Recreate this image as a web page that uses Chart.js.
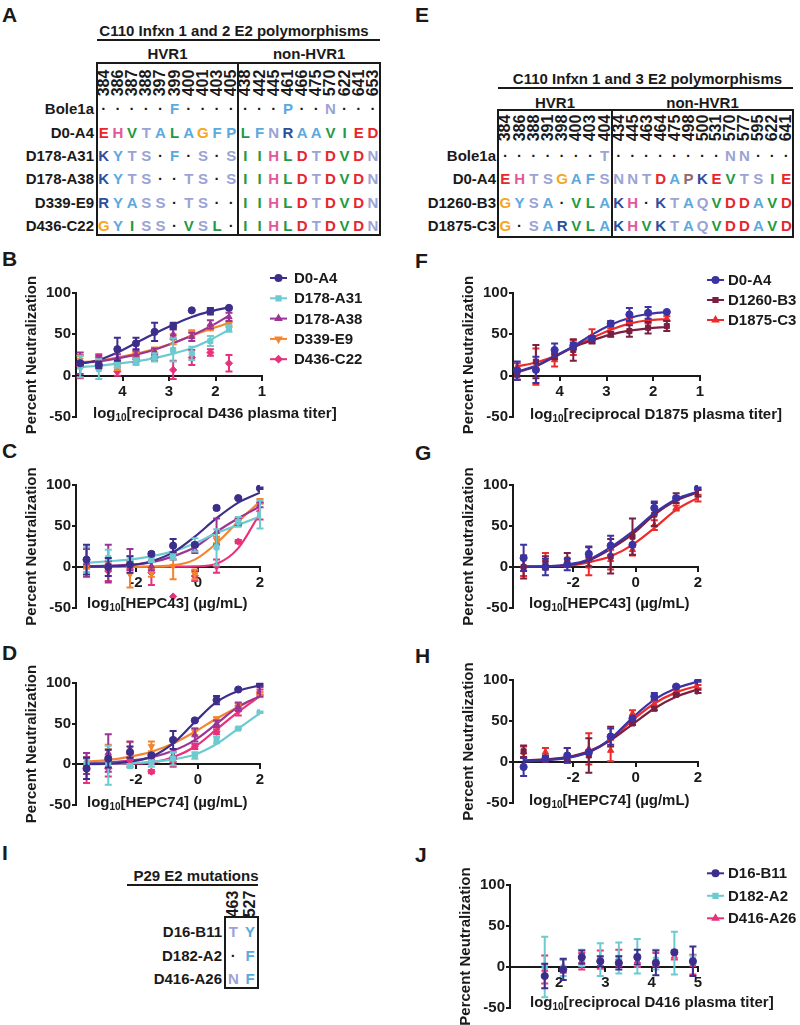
<!DOCTYPE html>
<html lang="en">
<head>
<meta charset="UTF-8">
<title>E2 polymorphisms and neutralization</title>
<script src="https://cdn.jsdelivr.net/npm/chart.js"></script>
<style>
  html, body { margin: 0; background: #fff; }
  #page { position: relative; width: 800px; height: 1025px; overflow: hidden;
          font-family: "Liberation Sans", Arial, sans-serif; font-weight: bold; color: #1a1a1a; }
  .t { position: absolute; white-space: nowrap; line-height: 1; }
  .letter { position: absolute; font-size: 21px; line-height: 1; }
  .rule { position: absolute; height: 2px; background: #1a1a1a; }
  .box { position: absolute; border: 2px solid #1a1a1a; box-sizing: border-box; }
  .chart { position: absolute; }
  canvas { display: block; }
</style>
</head>
<body>
<div id="page"></div>
<script>
// ---- table data (A, E, I) ----
const aHvr1Pos = ['384', '386', '387', '388', '397', '399', '400', '401', '403', '405'];
const aOtherPos = ['438', '442', '445', '461', '466', '475', '570', '622', '641', '653'];
const aClones = ['Bole1a', 'D0-A4', 'D178-A31', 'D178-A38', 'D339-E9', 'D436-C22'];
const aResidues = [
  '.....F....' + '...P..N...',
  'EHVTALAGFP' + 'LFNRAAVIED',
  'KYTS.F.S.S' + 'IIHLDTDVDN',
  'KYTS..TS.S' + 'IIHLDTDVDN',
  'RYASS.TS..' + 'IIHLDTDVDN',
  'GYISS.VSL.' + 'IIHLDTDVDN'
];

const eHvr1Pos = ['384', '386', '388', '391', '398', '400', '403', '404'];
const eOtherPos = ['434', '445', '463', '464', '475', '498', '500', '531', '570', '577', '595', '622', '641'];
const eClones = ['Bole1a', 'D0-A4', 'D1260-B3', 'D1875-C3'];
const eResidues = [
  '.......T' + '........NN...',
  'EHTSGAFS' + 'NNTDAPKEVTSIE',
  'GYSA.VLA' + 'KH.KTAQVDDAVD',
  'G.SARVLA' + 'KHVKTAQVDDAVD'
];

const iPos = ['463', '527'];
const iClones = ['D16-B11', 'D182-A2', 'D416-A26'];
const iResidues = ['TY', '.F', 'NF'];

// ---- neutralization data ----
const titerB = [4.91, 4.51, 4.11, 3.71, 3.31, 2.91, 2.51, 2.11, 1.71];
const titerJ = [1.69, 2.09, 2.49, 2.89, 3.29, 3.69, 4.09, 4.49, 4.89];
const logConc = [-3.59, -2.89, -2.19, -1.50, -0.80, -0.10, 0.60, 1.30, 2.00];
const titerTicksDesc = [4, 3, 2, 1];
const titerTicksAsc = [2, 3, 4, 5];
const concTicks = [-2, 0, 2];
const pctTicks = [-50, 0, 50, 100];

// B: D436 plasma vs infection 1/2 variants
const bD0A4 = [15, 13, 32, 39, 53, 60, 79, 78, 82];
const bD0A4Sd = [2, 4, 14, 7, 11, 4, 0, 4, 0];
const bD0A4Fit = [14.5, 19, 28, 39.5, 51, 61.6, 71, 77.7, 82.6];
const bA31 = [11, 8, 13, 17, 22, 31, 27, 42, 57];
const bA31Sd = [13, 12, 3, 4, 5, 14, 8, 6, 4];
const bA31Fit = [10.5, 12, 14.5, 17.3, 21.3, 26.6, 33.4, 43.5, 55.6];
const bA38 = [15, 17, 21, 26, 29, 50, 47, 62, 71];
const bA38Sd = [13, 7, 5, 4, 4, 6, 5, 5, 5];
const bA38Fit = [15.3, 17.3, 21, 25.4, 31.4, 39.5, 48.7, 59.6, 72.5];
const bE9 = [19, 14, 11, 26, 31, 44, 51, 58, 62];
const bE9Sd = [5, 4, 4, 3, 3, 6, 4, 3, 3];
const bE9Fit = [16, 18, 21.8, 26.6, 32.2, 39.5, 48.3, 56.4, 63.6];
const bC22 = [11, 22, 5, 20, 22, 7, 22, 28, 15];
const bC22Sd = [14, 4, 5, 4, 4, 11, 9, 4, 10];

// F: D1875 plasma vs infection 1/3 variants
const fD0A4 = [6, 7, 31, 36, 45, 63, 74, 76, 77];
const fD0A4Sd = [11, 16, 8, 4, 3, 3, 8, 7, 0];
const fD0A4Fit = [5, 12, 23.4, 35.5, 49.6, 61.7, 69.8, 74.6, 77];
const fB3 = [1, 17, 23, 31, 42, 50, 54, 58, 60];
const fB3Sd = [6, 20, 3, 13, 3, 3, 7, 7, 6];
const fB3Fit = [4, 11.3, 22.6, 34.3, 42.7, 49.6, 54.4, 57.3, 58.9];
const fC3 = [11, 11, 19, 34, 48, 60, 66, 68, 69];
const fC3Sd = [4, 22, 8, 9, 8, 3, 3, 5, 3];
const fC3Fit = [11.3, 16, 23.4, 34.7, 45.6, 55.6, 63, 67, 68.5];

// C: HEPC43 vs infection 1/2 variants
const cD0A4 = [9, 0, 3, 16, 26, 27, 72, 84, 96];
const cD0A4Sd = [18, 11, 10, 2, 8, 2, 2, 1, 1];
const cD0A4Fit = [0.4, 0.8, 2, 7, 17.8, 37, 59.5, 78.5, 90.7];
const cA31 = [9, 11, 7, 9, 13, 27, 24, 55, 64];
const cA31Sd = [15, 10, 6, 3, 4, 8, 22, 6, 17];
const cA31Fit = [5, 7, 9, 13, 19, 29, 41.3, 51.4, 61.5];
const cA38 = [5, 4, 9, 1, 17, 21, 43, 55, 76];
const cA38Sd = [17, 23, 13, 5, 8, 4, 16, 4, 3];
const cA38Fit = [1, 1.6, 2.8, 5.7, 13, 24, 43, 59.5, 73.7];
const cE9 = [1, 1, -9, -7, 1, -9, 33, 55, 80];
const cE9Sd = [3, 3, 16, 5, 16, 6, 4, 4, 3];
const cE9Fit = [0, 0, 0.4, 0.8, 2, 9, 29, 55.5, 79.8];
const cC22 = [1, -5, 1, -7, -36, -11, 1, 31, 68];
const cC22Sd = [2, 12, 3, 15, 0, 6, 8, 2, 10];
const cC22Fit = [0, 0, 0, 0, 0.4, 0.8, 4, 23, 65.6];

// G: HEPC43 vs infection 1/3 variants
const gD0A4 = [11, 0, 3, 16, 26, 27, 72, 84, 96];
const gD0A4Sd = [16, 10, 7, 8, 12, 2, 8, 2, 1];
const gD0A4Fit = [0.4, 0.8, 2.8, 9, 24, 43, 65.6, 82.6, 92];
const gB3 = [0, 5, 9, 13, 13, 37, 64, 84, 90];
const gB3Sd = [14, 8, 8, 12, 21, 22, 14, 6, 4];
const gB3Fit = [0.4, 0.8, 2.4, 8, 22, 40, 63.6, 81, 91];
const gC3 = [1, 9, 2, 1, 9, 21, 51, 72, 84];
const gC3Sd = [12, 8, 2, 11, 12, 7, 6, 3, 4];
const gC3Fit = [0.4, 0.8, 1.6, 5.7, 13, 27, 47.4, 69.6, 84.6];

// D: HEPC74 vs infection 1/2 variants
const dD0A4 = [-5, 7, 15, 11, 30, 54, 79, 92, 98];
const dD0A4Sd = [13, 11, 7, 2, 11, 1, 5, 1, 1];
const dD0A4Fit = [0.4, 0.8, 3.3, 9.4, 25.7, 52, 76.7, 90.2, 97.1];
const dA31 = [1, -1, -2, 3, 7, 11, 30, 44, 64];
const dA31Sd = [6, 24, 2, 6, 8, 4, 4, 1, 1];
const dA31Fit = [0.5, 1, 1.5, 3, 6, 12, 25, 44, 63];
const dA38 = [1, 14, 18, 3, 11, 36, 50, 71, 89];
const dA38Sd = [13, 23, 10, 3, 4, 8, 4, 5, 6];
const dA38Fit = [1.2, 2.4, 4.5, 8.6, 16.7, 29.8, 50, 70.6, 83.7];
const dE9 = [6, 17, 20, 22, 30, 40, 56, 73, 87];
const dE9Sd = [8, 7, 7, 6, 2, 4, 2, 2, 2];
const dE9Fit = [3.3, 5.3, 9.4, 15.5, 25.7, 40, 56.3, 70.6, 83.7];
const dC22 = [-7, -5, 5, -9, 3, 22, 40, 66, 89];
const dC22Sd = [16, 10, 8, 2, 6, 3, 3, 6, 3];
const dC22Fit = [0.2, 0.4, 0.8, 2, 8.6, 21.6, 42.9, 64.5, 83.7];

// H: HEPC74 vs infection 1/3 variants
const hD0A4 = [-6, 4, 8, 12, 31, 53, 80, 92, 99];
const hD0A4Sd = [11, 2, 9, 2, 10, 2, 4, 1, 1];
const hD0A4Fit = [0.8, 2, 5, 12, 28.6, 54, 76, 90, 98];
const hB3 = [13, 4, 4, 8, 31, 47, 65, 82, 86];
const hB3Sd = [7, 4, 2, 21, 12, 2, 2, 1, 2];
const hB3Fit = [2, 3.3, 6, 13, 26.5, 46, 65.3, 79.6, 88.6];
const hC3 = [12, 12, 8, 16, 14, 59, 71, 86, 92];
const hC3Sd = [7, 5, 9, 19, 13, 4, 4, 2, 2];
const hC3Fit = [1.6, 2.8, 5.7, 12, 27, 51, 71.4, 84.9, 93];

// J: D416 plasma vs P29 variants
const jB11 = [-11, -3, 12, 7, 5, 12, 5, 18, 7];
const jB11Sd = [15, 13, 8, 6, 8, 9, 15, 2, 18];
const jA2 = [0, -1, 11, 9, 11, 13, 9, 17, 9];
const jA2Sd = [37, 10, 10, 20, 19, 21, 12, 26, 5];
const jA26 = [-3, 1, 7, 9, 11, 7, 9, 13, 3];
const jA26Sd = [17, 8, 10, 11, 10, 7, 8, 4, 12];

// ---- colours ----
const ink = '#1a1a1a';
const indigo = '#3d2e8c';
const blueIndigo = '#3b33a3';
const cyan = '#6ccbd0';
const purple = '#9b3495';
const orange = '#f4842e';
const pink = '#e8317b';
const maroon = '#7a1f42';
const red = '#ee2b2b';

const aaColors = {
  E: '#e8262b', D: '#e8262b', H: '#e2589c',
  V: '#239a3f', L: '#239a3f', I: '#239a3f',
  T: '#9ba3d6', S: '#9ba3d6', N: '#9ba3d6', Q: '#9ba3d6',
  A: '#5aa9df', F: '#5aa9df', P: '#5aa9df', Y: '#5aa9df',
  G: '#f5a623', K: '#2d4e9c', R: '#2d4e9c', '.': ink
};

const page = document.getElementById('page');

function addText(txt, x, y, opts = {}) {
  const el = document.createElement('span');
  el.className = 't';
  el.textContent = txt;
  el.style.left = x + 'px';
  el.style.top = y + 'px';
  el.style.fontSize = (opts.size || 15) + 'px';
  if (opts.color) el.style.color = opts.color;
  const ax = opts.align === 'right' ? '-100%' : '-50%';
  el.style.transform = 'translate(' + ax + ', -50%)' + (opts.rotate ? ' rotate(-90deg)' : '');
  page.appendChild(el);
}

function addRule(x0, x1, y) {
  const el = document.createElement('div');
  el.className = 'rule';
  el.style.left = x0 + 'px';
  el.style.width = (x1 - x0) + 'px';
  el.style.top = (y - 1) + 'px';
  page.appendChild(el);
}

function addBox(x0, y0, x1, y1) {
  const el = document.createElement('div');
  el.className = 'box';
  el.style.left = (x0 - 1) + 'px';
  el.style.top = (y0 - 1) + 'px';
  el.style.width = (x1 - x0 + 2) + 'px';
  el.style.height = (y1 - y0 + 2) + 'px';
  page.appendChild(el);
}

function buildTable(t) {
  addText(t.title, t.titleX, t.titleY);
  addRule(t.ruleX0, t.ruleX1, t.ruleY);
  const cols = [];
  t.groups.forEach(g => {
    const w = (g.x1 - g.x0) / g.pos.length;
    g.pos.forEach((p, i) => {
      const cx = g.x0 + w * (i + 0.5);
      cols.push(cx);
      addText(p, cx, t.numY, { size: 16, rotate: true });
    });
    if (g.label) addText(g.label, (g.x0 + g.x1) / 2, t.groupY);
    addBox(g.x0, t.boxTop, g.x1, t.boxBottom);
  });
  t.clones.forEach((c, r) => {
    const y = t.rowY + r * t.rowStep;
    addText(c, t.labelX, y, { align: 'right' });
    [...t.residues[r]].forEach((aa, k) => {
      const ch = aa === '.' ? '\u00b7' : aa;
      const color = (t.override && t.override[r + ':' + k]) || aaColors[aa];
      addText(ch, cols[k], y, { color: color });
    });
  });
}

// panel letters
[['A', 2, 4], ['B', 2, 248], ['C', 2, 440], ['D', 2, 642], ['I', 2, 842],
 ['E', 415, 4], ['F', 415, 250], ['G', 415, 442], ['H', 415, 645], ['J', 415, 844]].forEach(([l, x, y]) => {
  const el = document.createElement('div');
  el.className = 'letter';
  el.textContent = l;
  el.style.left = x + 'px';
  el.style.top = y + 'px';
  page.appendChild(el);
});

buildTable({
  title: 'C110 Infxn 1 and 2 E2 polymorphisms', titleX: 234, titleY: 30,
  ruleX0: 97, ruleX1: 380, ruleY: 40, groupY: 53, numY: 82.5,
  boxTop: 63.3, boxBottom: 235,
  groups: [
    { label: 'HVR1', pos: aHvr1Pos, x0: 96.7, x1: 238.3 },
    { label: 'non-HVR1', pos: aOtherPos, x0: 238.3, x1: 380 }
  ],
  clones: aClones, residues: aResidues, rowY: 108.3, rowStep: 23.3, labelX: 94
});

buildTable({
  title: 'C110 Infxn 1 and 3 E2 polymorphisms', titleX: 647.5, titleY: 77.7,
  ruleX0: 498, ruleX1: 793, ruleY: 88.3, groupY: 101.7, numY: 128,
  boxTop: 110, boxBottom: 236.7,
  groups: [
    { label: 'HVR1', pos: eHvr1Pos, x0: 498.3, x1: 611.7 },
    { label: 'non-HVR1', pos: eOtherPos, x0: 611.7, x1: 793.3 }
  ],
  clones: eClones, residues: eResidues, rowY: 155, rowStep: 23.3, labelX: 496,
  override: { '1:13': '#8b6b6b' }
});

buildTable({
  title: 'P29 E2 mutations', titleX: 196, titleY: 875,
  ruleX0: 127, ruleX1: 258, ruleY: 885, groupY: 0, numY: 903.5,
  boxTop: 917.3, boxBottom: 988.3,
  groups: [{ label: '', pos: iPos, x0: 225, x1: 258.3 }],
  clones: iClones, residues: iResidues, rowY: 931, rowStep: 23.5, labelX: 222
});

// ---- Chart.js plugins ----
Chart.defaults.font.family = '"Liberation Sans", Arial, sans-serif';
Chart.defaults.font.weight = 'bold';
Chart.defaults.color = ink;

const errorBars = {
  id: 'errorBars',
  afterDatasetDraw(chart, args) {
    const ds = chart.data.datasets[args.index];
    if (!ds.sd) return;
    const ctx = chart.ctx;
    const ys = chart.scales.y;
    ctx.save();
    ctx.strokeStyle = ds.borderColor;
    ctx.lineWidth = 2;
    args.meta.data.forEach((pt, i) => {
      const e = ds.sd[i];
      if (!e) return;
      const v = ds.data[i].y;
      const y1 = ys.getPixelForValue(v - e);
      const y2 = ys.getPixelForValue(v + e);
      ctx.beginPath();
      ctx.moveTo(pt.x, y1); ctx.lineTo(pt.x, y2);
      ctx.moveTo(pt.x - 3.5, y1); ctx.lineTo(pt.x + 3.5, y1);
      ctx.moveTo(pt.x - 3.5, y2); ctx.lineTo(pt.x + 3.5, y2);
      ctx.stroke();
    });
    ctx.restore();
  }
};

const xTitle = {
  id: 'xTitle',
  afterDraw(chart, args, o) {
    if (!o.parts) return;
    const ctx = chart.ctx;
    const fam = '"Liberation Sans", Arial, sans-serif';
    let x = o.x;
    ctx.save();
    ctx.fillStyle = ink;
    ctx.textAlign = 'left';
    ctx.textBaseline = 'alphabetic';
    ctx.font = 'bold 15px ' + fam;
    ctx.fillText(o.parts[0], x, o.y + 5);
    x += ctx.measureText(o.parts[0]).width;
    ctx.font = 'bold 10px ' + fam;
    ctx.fillText(o.parts[1], x, o.y + 8);
    x += ctx.measureText(o.parts[1]).width;
    ctx.font = 'bold 15px ' + fam;
    ctx.fillText(o.parts[2], x, o.y + 5);
    ctx.restore();
  }
};

const seriesLegend = {
  id: 'seriesLegend',
  afterDraw(chart, args, o) {
    if (!o.show) return;
    const ctx = chart.ctx;
    const items = chart.data.datasets.filter(d => d.label);
    items.forEach((d, i) => {
      const y = o.y + i * o.step;
      ctx.save();
      ctx.strokeStyle = d.borderColor;
      ctx.lineWidth = 2;
      ctx.beginPath();
      ctx.moveTo(o.x, y); ctx.lineTo(o.x + 17, y);
      ctx.stroke();
      ctx.fillStyle = d.backgroundColor;
      if (Chart.helpers && Chart.helpers.drawPoint) {
        Chart.helpers.drawPoint(ctx, { pointStyle: d.pointStyle, radius: 3, rotation: d.pointRotation || 0, borderWidth: 1 }, o.x + 8.5, y);
      }
      ctx.fillStyle = ink;
      ctx.font = 'bold 15px "Liberation Sans", Arial, sans-serif';
      ctx.textBaseline = 'middle';
      ctx.fillText(d.label, o.textX, y + 1);
      ctx.restore();
    });
  }
};

// ---- panels ----
function makePanel(p) {
  const yW = 76;
  const padTop = 30, padBot = 26;
  const cLeft = p.left - yW;
  const cRight = p.left < 400 ? 400 : 800;
  const cTop = p.y100 - padTop;
  const cW = cRight - cLeft;
  const cH = p.yM50 + padBot - cTop;
  const wrap = document.createElement('div');
  wrap.className = 'chart';
  wrap.style.left = cLeft + 'px';
  wrap.style.top = cTop + 'px';
  const cv = document.createElement('canvas');
  cv.width = cW; cv.height = cH;
  cv.style.width = cW + 'px'; cv.style.height = cH + 'px';
  wrap.appendChild(cv);
  page.appendChild(wrap);

  const datasets = [];
  p.series.forEach(s => {
    if (s.fit) {
      datasets.push({
        type: 'line', data: p.x.map((x, i) => ({ x: x, y: s.fit[i] })),
        borderColor: s.color, borderWidth: 2.2, pointRadius: 0, fill: false,
        cubicInterpolationMode: 'monotone', order: 2
      });
    }
    datasets.push({
      type: 'scatter', label: s.name, data: p.x.map((x, i) => ({ x: x, y: s.y[i] })),
      sd: s.sd, backgroundColor: s.color, borderColor: s.color,
      pointStyle: s.style, pointRotation: s.rot || 0, pointRadius: 3.6, borderWidth: 1,
      showLine: false, order: 1
    });
  });

  const tickFont = { size: 15 };
  new Chart(cv, {
    type: 'scatter',
    data: { datasets: datasets },
    options: {
      responsive: false, animation: false, devicePixelRatio: 1,
      layout: { padding: { top: padTop, bottom: padBot, left: 0, right: cRight - p.right } },
      scales: {
        x: {
          type: 'linear', min: p.xMin, max: p.xMax, reverse: !!p.reverse, position: { y: 0 },
          afterBuildTicks: sc => { sc.ticks = p.ticks.map(v => ({ value: v })); },
          ticks: { font: tickFont, padding: 3, maxRotation: 0, autoSkip: false, callback: v => String(v) },
          grid: { drawOnChartArea: false, tickLength: 4, lineWidth: 2, color: ink },
          border: { color: ink, width: 2 }
        },
        y: {
          type: 'linear', min: -50, max: 100,
          afterBuildTicks: sc => { sc.ticks = pctTicks.map(v => ({ value: v })); },
          ticks: { font: tickFont, padding: 1, callback: v => String(v) },
          grid: { drawOnChartArea: false, tickLength: 4, lineWidth: 2, color: ink },
          border: { color: ink, width: 2 },
          title: { display: true, text: 'Percent Neutralization', font: { size: 15 }, padding: { top: 23, bottom: 0 } },
          afterFit: sc => { sc.width = yW; }
        }
      },
      plugins: {
        legend: { display: false },
        tooltip: { enabled: false },
        xTitle: { parts: p.xTitle, x: p.titleX - cLeft, y: p.titleY - cTop },
        seriesLegend: p.legend
          ? { show: true, x: p.legend.x - cLeft, textX: p.legend.textX - cLeft, y: p.legend.y - cTop, step: p.legend.step }
          : { show: false }
      }
    },
    plugins: [errorBars, xTitle, seriesLegend]
  });
}

const titerTitle = d => ['log', '10', '[reciprocal ' + d + ' plasma titer]'];

makePanel({
  left: 76, right: 262, y100: 293, yM50: 417, x: titerB, xMin: 1, xMax: 5, reverse: true,
  ticks: titerTicksDesc, xTitle: titerTitle('D436'), titleX: 93, titleY: 413,
  legend: { x: 270, textX: 294, y: 278, step: 20.3 },
  series: [
    { name: 'D0-A4', y: bD0A4, sd: bD0A4Sd, fit: bD0A4Fit, color: indigo, style: 'circle' },
    { name: 'D178-A31', y: bA31, sd: bA31Sd, fit: bA31Fit, color: cyan, style: 'rect' },
    { name: 'D178-A38', y: bA38, sd: bA38Sd, fit: bA38Fit, color: purple, style: 'triangle' },
    { name: 'D339-E9', y: bE9, sd: bE9Sd, fit: bE9Fit, color: orange, style: 'triangle', rot: 180 },
    { name: 'D436-C22', y: bC22, sd: bC22Sd, color: pink, style: 'rectRot' }
  ]
});

makePanel({
  left: 513, right: 700, y100: 293, yM50: 417, x: titerB, xMin: 1, xMax: 5, reverse: true,
  ticks: titerTicksDesc, xTitle: titerTitle('D1875'), titleX: 530, titleY: 414,
  legend: { x: 707, textX: 728, y: 280, step: 20 },
  series: [
    { name: 'D0-A4', y: fD0A4, sd: fD0A4Sd, fit: fD0A4Fit, color: blueIndigo, style: 'circle' },
    { name: 'D1260-B3', y: fB3, sd: fB3Sd, fit: fB3Fit, color: maroon, style: 'rect' },
    { name: 'D1875-C3', y: fC3, sd: fC3Sd, fit: fC3Fit, color: red, style: 'triangle' }
  ]
});

const conc = (left, right, y100, yM50, ab, titleX, titleY, series) => makePanel({
  left: left, right: right, y100: y100, yM50: yM50, x: logConc, xMin: -3.93, xMax: 2,
  ticks: concTicks, xTitle: ['log', '10', '[' + ab + '] (\u00b5g/mL)'], titleX: titleX, titleY: titleY,
  series: series
});

conc(76, 260, 485, 608, 'HEPC43', 87, 603, [
  { name: 'D0-A4', y: cD0A4, sd: cD0A4Sd, fit: cD0A4Fit, color: indigo, style: 'circle' },
  { name: 'D178-A31', y: cA31, sd: cA31Sd, fit: cA31Fit, color: cyan, style: 'rect' },
  { name: 'D178-A38', y: cA38, sd: cA38Sd, fit: cA38Fit, color: purple, style: 'triangle' },
  { name: 'D339-E9', y: cE9, sd: cE9Sd, fit: cE9Fit, color: orange, style: 'triangle', rot: 180 },
  { name: 'D436-C22', y: cC22, sd: cC22Sd, fit: cC22Fit, color: pink, style: 'rectRot' }
]);

conc(513, 698, 485, 608, 'HEPC43', 529, 603, [
  { name: 'D0-A4', y: gD0A4, sd: gD0A4Sd, fit: gD0A4Fit, color: blueIndigo, style: 'circle' },
  { name: 'D1260-B3', y: gB3, sd: gB3Sd, fit: gB3Fit, color: maroon, style: 'rect' },
  { name: 'D1875-C3', y: gC3, sd: gC3Sd, fit: gC3Fit, color: red, style: 'triangle' }
]);

conc(76, 260, 683, 805, 'HEPC74', 87, 802, [
  { name: 'D0-A4', y: dD0A4, sd: dD0A4Sd, fit: dD0A4Fit, color: indigo, style: 'circle' },
  { name: 'D178-A31', y: dA31, sd: dA31Sd, fit: dA31Fit, color: cyan, style: 'rect' },
  { name: 'D178-A38', y: dA38, sd: dA38Sd, fit: dA38Fit, color: purple, style: 'triangle' },
  { name: 'D339-E9', y: dE9, sd: dE9Sd, fit: dE9Fit, color: orange, style: 'triangle', rot: 180 },
  { name: 'D436-C22', y: dC22, sd: dC22Sd, fit: dC22Fit, color: pink, style: 'rectRot' }
]);

conc(513, 698, 680, 803, 'HEPC74', 529, 799.5, [
  { name: 'D0-A4', y: hD0A4, sd: hD0A4Sd, fit: hD0A4Fit, color: blueIndigo, style: 'circle' },
  { name: 'D1260-B3', y: hB3, sd: hB3Sd, fit: hB3Fit, color: maroon, style: 'rect' },
  { name: 'D1875-C3', y: hC3, sd: hC3Sd, fit: hC3Fit, color: red, style: 'triangle' }
]);

makePanel({
  left: 510, right: 698, y100: 885, yM50: 1008, x: titerJ, xMin: 0.94, xMax: 5,
  ticks: titerTicksAsc, xTitle: titerTitle('D416'), titleX: 530, titleY: 1001.7,
  legend: { x: 707, textX: 728, y: 873.3, step: 22.5 },
  series: [
    { name: 'D16-B11', y: jB11, sd: jB11Sd, color: indigo, style: 'circle' },
    { name: 'D182-A2', y: jA2, sd: jA2Sd, color: cyan, style: 'rect' },
    { name: 'D416-A26', y: jA26, sd: jA26Sd, color: pink, style: 'triangle' }
  ]
});
</script>
</body>
</html>
